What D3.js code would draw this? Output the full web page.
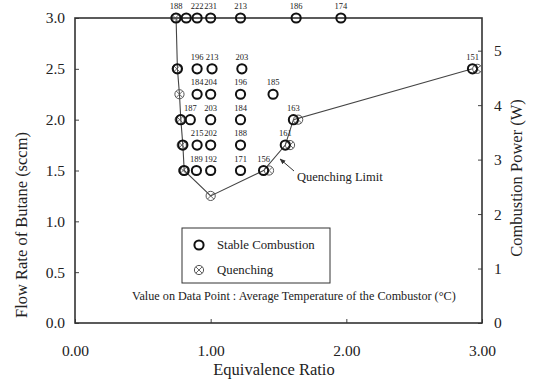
<!DOCTYPE html>
<html>
<head>
<meta charset="utf-8">
<script src="https://cdn.jsdelivr.net/npm/d3@7/dist/d3.min.js"></script>
<style>
  body { margin: 0; background: #fff; }
  svg text { font-family: "Liberation Serif", "DejaVu Serif", serif; fill: #222; }
</style>
</head>
<body>
<svg id="chart" width="534" height="381"></svg>
<script>
// stable combustion points (equivalence ratio, butane flow, avg temperature label)
const stablePhi  = [0.745, 0.82, 0.90, 1.00, 1.22, 1.63, 1.96,
                    0.755, 0.90, 1.01, 1.23, 2.93,
                    0.90, 1.00, 1.22, 1.46,
                    0.78, 0.85, 1.00, 1.22, 1.61,
                    0.795, 0.90, 1.00, 1.22, 1.55,
                    0.805, 0.895, 1.00, 1.22, 1.39];
const stableFlow = [3.0, 3.0, 3.0, 3.0, 3.0, 3.0, 3.0,
                    2.5, 2.5, 2.5, 2.5, 2.5,
                    2.25, 2.25, 2.25, 2.25,
                    2.0, 2.0, 2.0, 2.0, 2.0,
                    1.75, 1.75, 1.75, 1.75, 1.75,
                    1.5, 1.5, 1.5, 1.5, 1.5];
const stableTemp = [188, null, 222, 231, 213, 186, 174,
                    null, 196, 213, 203, 151,
                    184, 204, 196, 185,
                    null, 187, 203, 184, 163,
                    null, 215, 202, 188, 161,
                    null, 189, 192, 171, 156];

// quenching points
const quenchPhi  = [0.74, 0.75, 0.77, 0.772, 0.787, 0.797, 1.00, 1.43, 1.585, 1.645, 2.965];
const quenchFlow = [3.0, 2.5, 2.25, 2.0, 1.75, 1.5, 1.25, 1.5, 1.75, 2.0, 2.5];

// quenching limit line
const limitPhi  = [0.745, 0.755, 0.77, 0.78, 0.795, 0.805, 1.00, 1.39, 1.55, 1.61, 2.93];
const limitFlow = [3.0, 2.5, 2.25, 2.0, 1.75, 1.5, 1.25, 1.5, 1.75, 2.0, 2.5];

const xTicks = [0, 1, 2, 3];
const yTicks = [0, 0.5, 1.0, 1.5, 2.0, 2.5, 3.0];
const powerTicks = [0, 1, 2, 3, 4, 5];

var svg = d3.select('#chart');

var x = d3.scaleLinear([0, 3], [75, 482]),
    y = d3.scaleLinear([0, 3], [323, 18]),
    yPow = d3.scaleLinear([0, 5.6], [323, 18]);

var ink = '#222';
var serif = '"Liberation Serif", "DejaVu Serif", serif';

// axes, ticks pointing inwards
svg.append('g')
    .attr('transform', 'translate(75,0)')
    .call(d3.axisLeft(y).tickValues(yTicks).tickSize(-4).tickPadding(10)
              .tickFormat(d3.format('.1f')))
    .call(g => g.select('.domain').remove());
svg.append('g')
    .attr('transform', 'translate(0,323)')
    .call(d3.axisBottom(x).tickValues(xTicks).tickSize(-4).tickPadding(22)
              .tickFormat(d3.format('.2f')))
    .call(g => g.select('.domain').remove());
svg.append('g')
    .attr('transform', 'translate(482,0)')
    .call(d3.axisRight(yPow).tickValues(powerTicks).tickSize(-4).tickPadding(12)
              .tickFormat(d3.format('d')))
    .call(g => g.select('.domain').remove());

svg.selectAll('g').attr('font-family', null).attr('font-size', null);
svg.selectAll('.tick line').attr('stroke', '#444');
svg.selectAll('.tick text')
    .style('font-family', serif).style('font-size', '15.5px')
    .attr('fill', ink);

// frame
svg.append('rect')
    .attr('x', x(0)).attr('y', y(3))
    .attr('width', x(3) - x(0)).attr('height', y(0) - y(3))
    .attr('fill', 'none').attr('stroke', '#333').attr('stroke-width', 1.6);

// quenching limit line
var limit = limitPhi.map((p, i) => [p, limitFlow[i]]);
svg.append('path')
    .datum(limit)
    .attr('d', d3.line().x(d => x(d[0])).y(d => y(d[1])))
    .attr('fill', 'none').attr('stroke', '#444').attr('stroke-width', 1.1);

var r = 4.6;

function quenchMark(g) {
  g.append('circle').attr('r', r).attr('fill', 'none')
      .attr('stroke', '#555').attr('stroke-width', 1);
  var k = r * 0.7;
  g.append('path').attr('d', `M${-k},${-k}L${k},${k}M${-k},${k}L${k},${-k}`)
      .attr('stroke', '#555').attr('stroke-width', 0.9);
}

function stableMark(g) {
  g.append('circle').attr('r', r).attr('fill', 'none')
      .attr('stroke', '#111').attr('stroke-width', 2);
}

// quenching points
var quench = quenchPhi.map((p, i) => ({ phi: p, flow: quenchFlow[i] }));
svg.append('g').selectAll('g')
    .data(quench)
    .enter()
    .append('g')
    .attr('transform', d => `translate(${x(d.phi)},${y(d.flow)})`)
    .each(function() { quenchMark(d3.select(this)); });

// stable points
var stable = stablePhi.map((p, i) => ({ phi: p, flow: stableFlow[i], t: stableTemp[i] }));
svg.append('g').selectAll('g')
    .data(stable)
    .enter()
    .append('g')
    .attr('transform', d => `translate(${x(d.phi)},${y(d.flow)})`)
    .each(function() { stableMark(d3.select(this)); });

// temperature labels
svg.append('g').selectAll('text')
    .data(stable.filter(d => d.t !== null))
    .enter()
    .append('text')
    .attr('x', d => x(d.phi))
    .attr('y', d => y(d.flow) - 9)
    .attr('text-anchor', 'middle')
    .style('font-size', '8.5px')
    .text(d => d.t);

// quenching limit annotation
svg.append('defs').append('marker')
    .attr('id', 'arr').attr('viewBox', '0 0 10 10')
    .attr('refX', 9).attr('refY', 5)
    .attr('markerWidth', 6).attr('markerHeight', 6)
    .attr('orient', 'auto')
    .append('path').attr('d', 'M0,1L10,5L0,9z').attr('fill', '#333');
svg.append('line')
    .attr('x1', 294).attr('y1', 171).attr('x2', 280).attr('y2', 159)
    .attr('stroke', '#333').attr('stroke-width', 1)
    .attr('marker-end', 'url(#arr)');
svg.append('text').attr('x', 297).attr('y', 181)
    .style('font-size', '12.5px').text('Quenching Limit');

// legend
svg.append('rect')
    .attr('x', 182).attr('y', 228).attr('width', 148).attr('height', 55)
    .attr('fill', 'none').attr('stroke', '#333').attr('stroke-width', 1);
stableMark(svg.append('g').attr('transform', 'translate(199,245)'));
quenchMark(svg.append('g').attr('transform', 'translate(199,270)'));
svg.append('text').attr('x', 217).attr('y', 249)
    .style('font-size', '12.8px').text('Stable Combustion');
svg.append('text').attr('x', 217).attr('y', 274)
    .style('font-size', '12.8px').text('Quenching');

svg.append('text').attr('x', 132).attr('y', 300)
    .style('font-size', '12.2px')
    .text('Value on Data Point : Average Temperature of the Combustor (\u00B0C)');

// axis titles
svg.append('text')
    .attr('x', 274).attr('y', 375).attr('text-anchor', 'middle')
    .style('font-size', '16.5px').text('Equivalence Ratio');
svg.append('text')
    .attr('transform', 'translate(27,225) rotate(-90)').attr('text-anchor', 'middle')
    .style('font-size', '16.5px').text('Flow Rate of Butane (sccm)');
svg.append('text')
    .attr('transform', 'translate(522,178) rotate(-90)').attr('text-anchor', 'middle')
    .style('font-size', '16.5px').text('Combustion Power (W)');
</script>
</body>
</html>
